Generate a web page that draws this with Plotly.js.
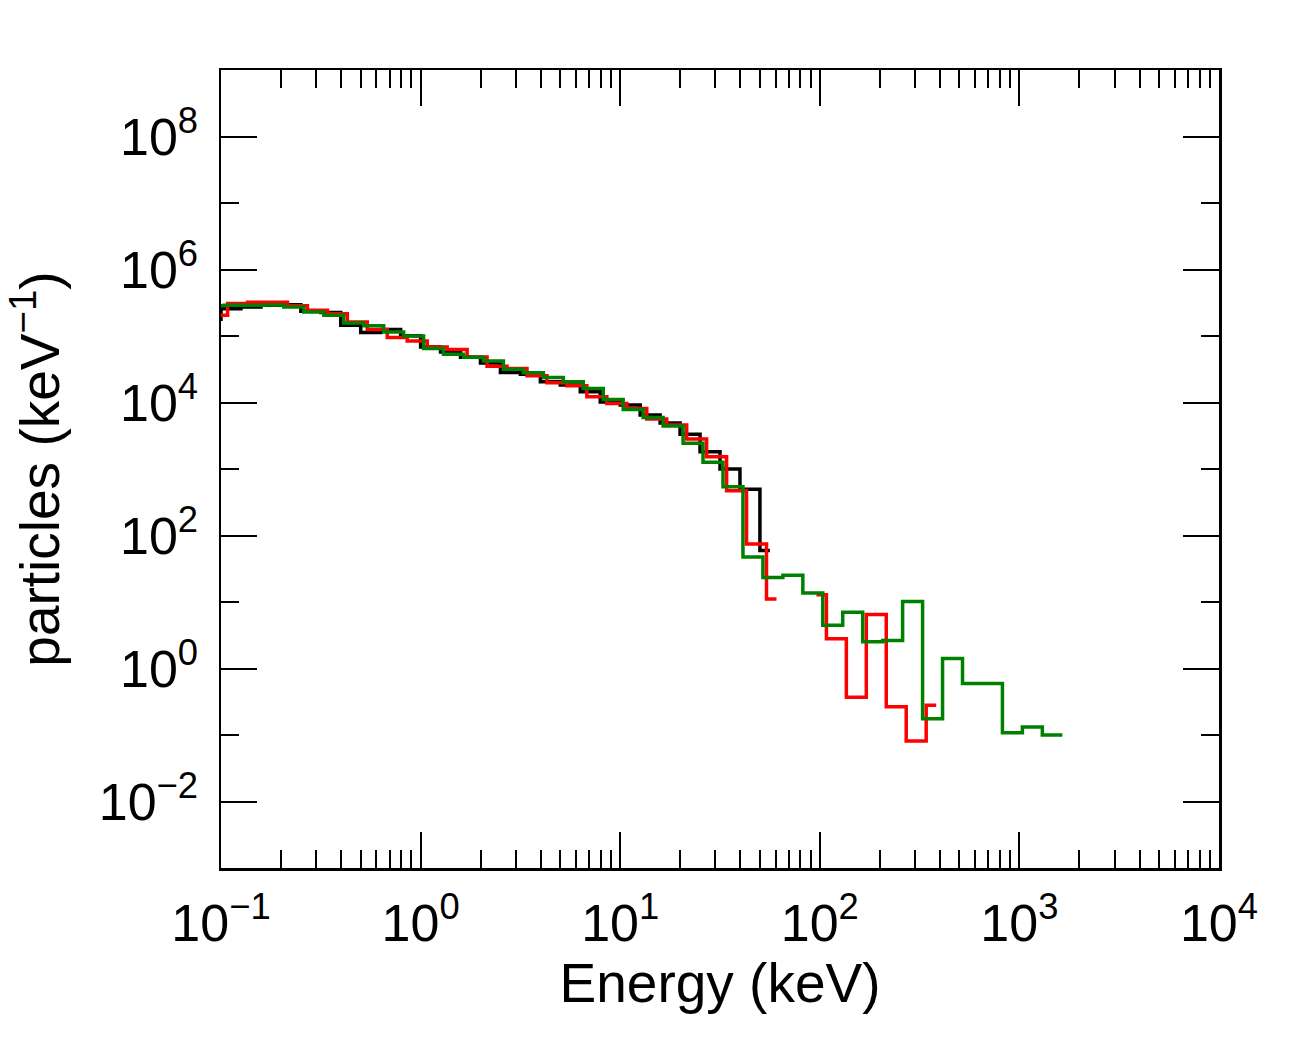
<!DOCTYPE html>
<html>
<head>
<meta charset="utf-8">
<script src="https://cdn.plot.ly/plotly-3.0.1.min.js"></script>
<style>html,body{margin:0;padding:0;background:#fff;}#chart{width:1311px;height:1045px;}</style>
</head>
<body>
<div id="chart"></div>
<script>
// Bin-centre energies (keV) and counts (keV^-1) for each spectrum
var blackEnergy = [0.0891, 0.1122, 0.1413, 0.1778, 0.2239, 0.2818, 0.3548, 0.4467, 0.5623, 0.7079,
  0.8913, 1.122, 1.413, 1.778, 2.239, 2.818, 3.548, 4.467, 5.623, 7.079,
  8.913, 11.22, 14.13, 17.78, 22.39, 28.18, 35.48, 44.67, 56.23];
var blackCounts = [1.78e5, 2.58e5, 2.73e5, 2.89e5, 2.96e5, 2.35e5, 2.25e5, 1.45e5, 1.13e5, 1.25e5,
  1.01e5, 6.85e4, 5.77e4, 4.80e4, 3.94e4, 2.83e4, 2.67e4, 2.05e4, 1.83e4, 1.45e4,
  1.02e4, 9.14e3, 6.47e3, 4.91e3, 3.32e3, 1.82e3, 1.00e3, 497, 59.6];

var redEnergy = [0.0962, 0.1211, 0.1524, 0.1919, 0.2415, 0.3041, 0.3828, 0.4819, 0.6067, 0.7638,
  0.9616, 1.211, 1.524, 1.919, 2.415, 3.041, 3.828, 4.819, 6.067, 7.638,
  9.616, 12.11, 15.24, 19.19, 24.15, 30.41, 38.28, 48.19, 60.67, 76.38,
  96.16, 121.1, 152.4, 191.9, 241.5, 304.1, 382.8];
var redCounts = [2.05e5, 3.07e5, 3.21e5, 3.21e5, 2.84e5, 2.43e5, 2.17e5, 1.63e5, 1.25e5, 9.48e4,
  8.44e4, 6.85e4, 6.26e4, 4.85e4, 3.52e4, 3.25e4, 2.52e4, 1.98e4, 1.78e4, 1.22e4,
  9.69e3, 8.15e3, 5.64e3, 4.58e3, 2.82e3, 1.53e3, 469, 74.3, 11.1, null,
  12.9, 2.79, 0.371, 6.46, 0.266, 0.0811, 0.281];

var greenEnergy = [0.0923, 0.1161, 0.1462, 0.1841, 0.2317, 0.2917, 0.3673, 0.4624, 0.5821, 0.7328,
  0.9226, 1.161, 1.462, 1.841, 2.317, 2.917, 3.673, 4.624, 5.821, 7.328,
  9.226, 11.61, 14.62, 18.41, 23.17, 29.17, 36.73, 46.24, 58.21, 73.28,
  92.26, 116.1, 146.2, 184.1, 231.7, 291.7, 367.3, 462.4, 582.1, 732.8,
  922.6, 1161, 1462, 1641];
var greenCounts = [2.84e5, 2.89e5, 2.89e5, 2.92e5, 2.73e5, 2.30e5, 2.05e5, 1.57e5, 1.42e5, 1.15e5,
  1.00e5, 6.48e4, 5.32e4, 4.80e4, 4.22e4, 3.17e4, 2.79e4, 2.38e4, 2.05e4, 1.63e4,
  1.11e4, 7.88e3, 5.97e3, 4.42e3, 2.43e3, 1.26e3, 543, 47.4, 23.4, 25.3,
  13.7, 4.47, 7.00, 2.52, 2.63, 10.2, 0.176, 1.41, 0.596, 0.596,
  0.108, 0.132, 0.0998, 0.0998];

var xTickVals = [0.1, 1, 10, 100, 1000, 10000];
var xTickText = ['10<sup>\u22121</sup>', '10<sup>0</sup>', '10<sup>1</sup>', '10<sup>2</sup>', '10<sup>3</sup>', '10<sup>4</sup>'];
var yTickVals = [1e-2, 1, 1e2, 1e4, 1e6, 1e8];
var yTickText = ['10<sup>\u22122</sup>', '10<sup>0</sup>', '10<sup>2</sup>', '10<sup>4</sup>', '10<sup>6</sup>', '10<sup>8</sup>'];
var yMinorVals = [1e-1, 1e1, 1e3, 1e5, 1e7];

var FONT = 'Liberation Sans, Arial, Helvetica, sans-serif';

function series(x, y, color) {
  return {
    x: x, y: y, type: 'scatter', mode: 'lines',
    line: {shape: 'hvh', color: color, width: 3.5},
    connectgaps: false, showlegend: false, hoverinfo: 'x+y'
  };
}

var data = [
  series(blackEnergy, blackCounts, '#000000'),
  series(redEnergy, redCounts, '#ff0000'),
  series(greenEnergy, greenCounts, '#008000')
];

var axisCommon = {
  type: 'log', showgrid: false, zeroline: false,
  showline: true, linecolor: '#000', linewidth: 2.5, mirror: 'ticks',
  ticks: 'inside', ticklen: 36, tickwidth: 2, tickcolor: '#000',
  tickmode: 'array', tickfont: {family: FONT, size: 52, color: '#000'}
};

var layout = {
  width: 1311, height: 1045,
  margin: {l: 221, r: 92, t: 70, b: 177},
  paper_bgcolor: '#fff', plot_bgcolor: '#fff',
  font: {family: FONT, color: '#000'},
  xaxis: Object.assign({}, axisCommon, {
    range: [-1, 4],
    tickvals: xTickVals, ticktext: xTickText,
    ticklabelstandoff: 8,
    minor: {dtick: 'D1', ticks: 'inside', ticklen: 18, tickwidth: 2, tickcolor: '#000', showgrid: false},
    title: {text: 'Energy (keV)', font: {family: FONT, size: 55, color: '#000'}, standoff: 0}
  }),
  yaxis: Object.assign({}, axisCommon, {
    range: [-3, 9],
    tickvals: yTickVals, ticktext: yTickText,
    ticklabelstandoff: 10,
    minor: {tickmode: 'array', tickvals: yMinorVals, ticks: 'inside', ticklen: 18, tickwidth: 2, tickcolor: '#000', showgrid: false},
    title: {text: 'particles (keV<sup>\u22121</sup>)', font: {family: FONT, size: 55, color: '#000'}, standoff: 22}
  })
};

Plotly.newPlot('chart', data, layout, {staticPlot: true, displayModeBar: false});
</script>
</body>
</html>
